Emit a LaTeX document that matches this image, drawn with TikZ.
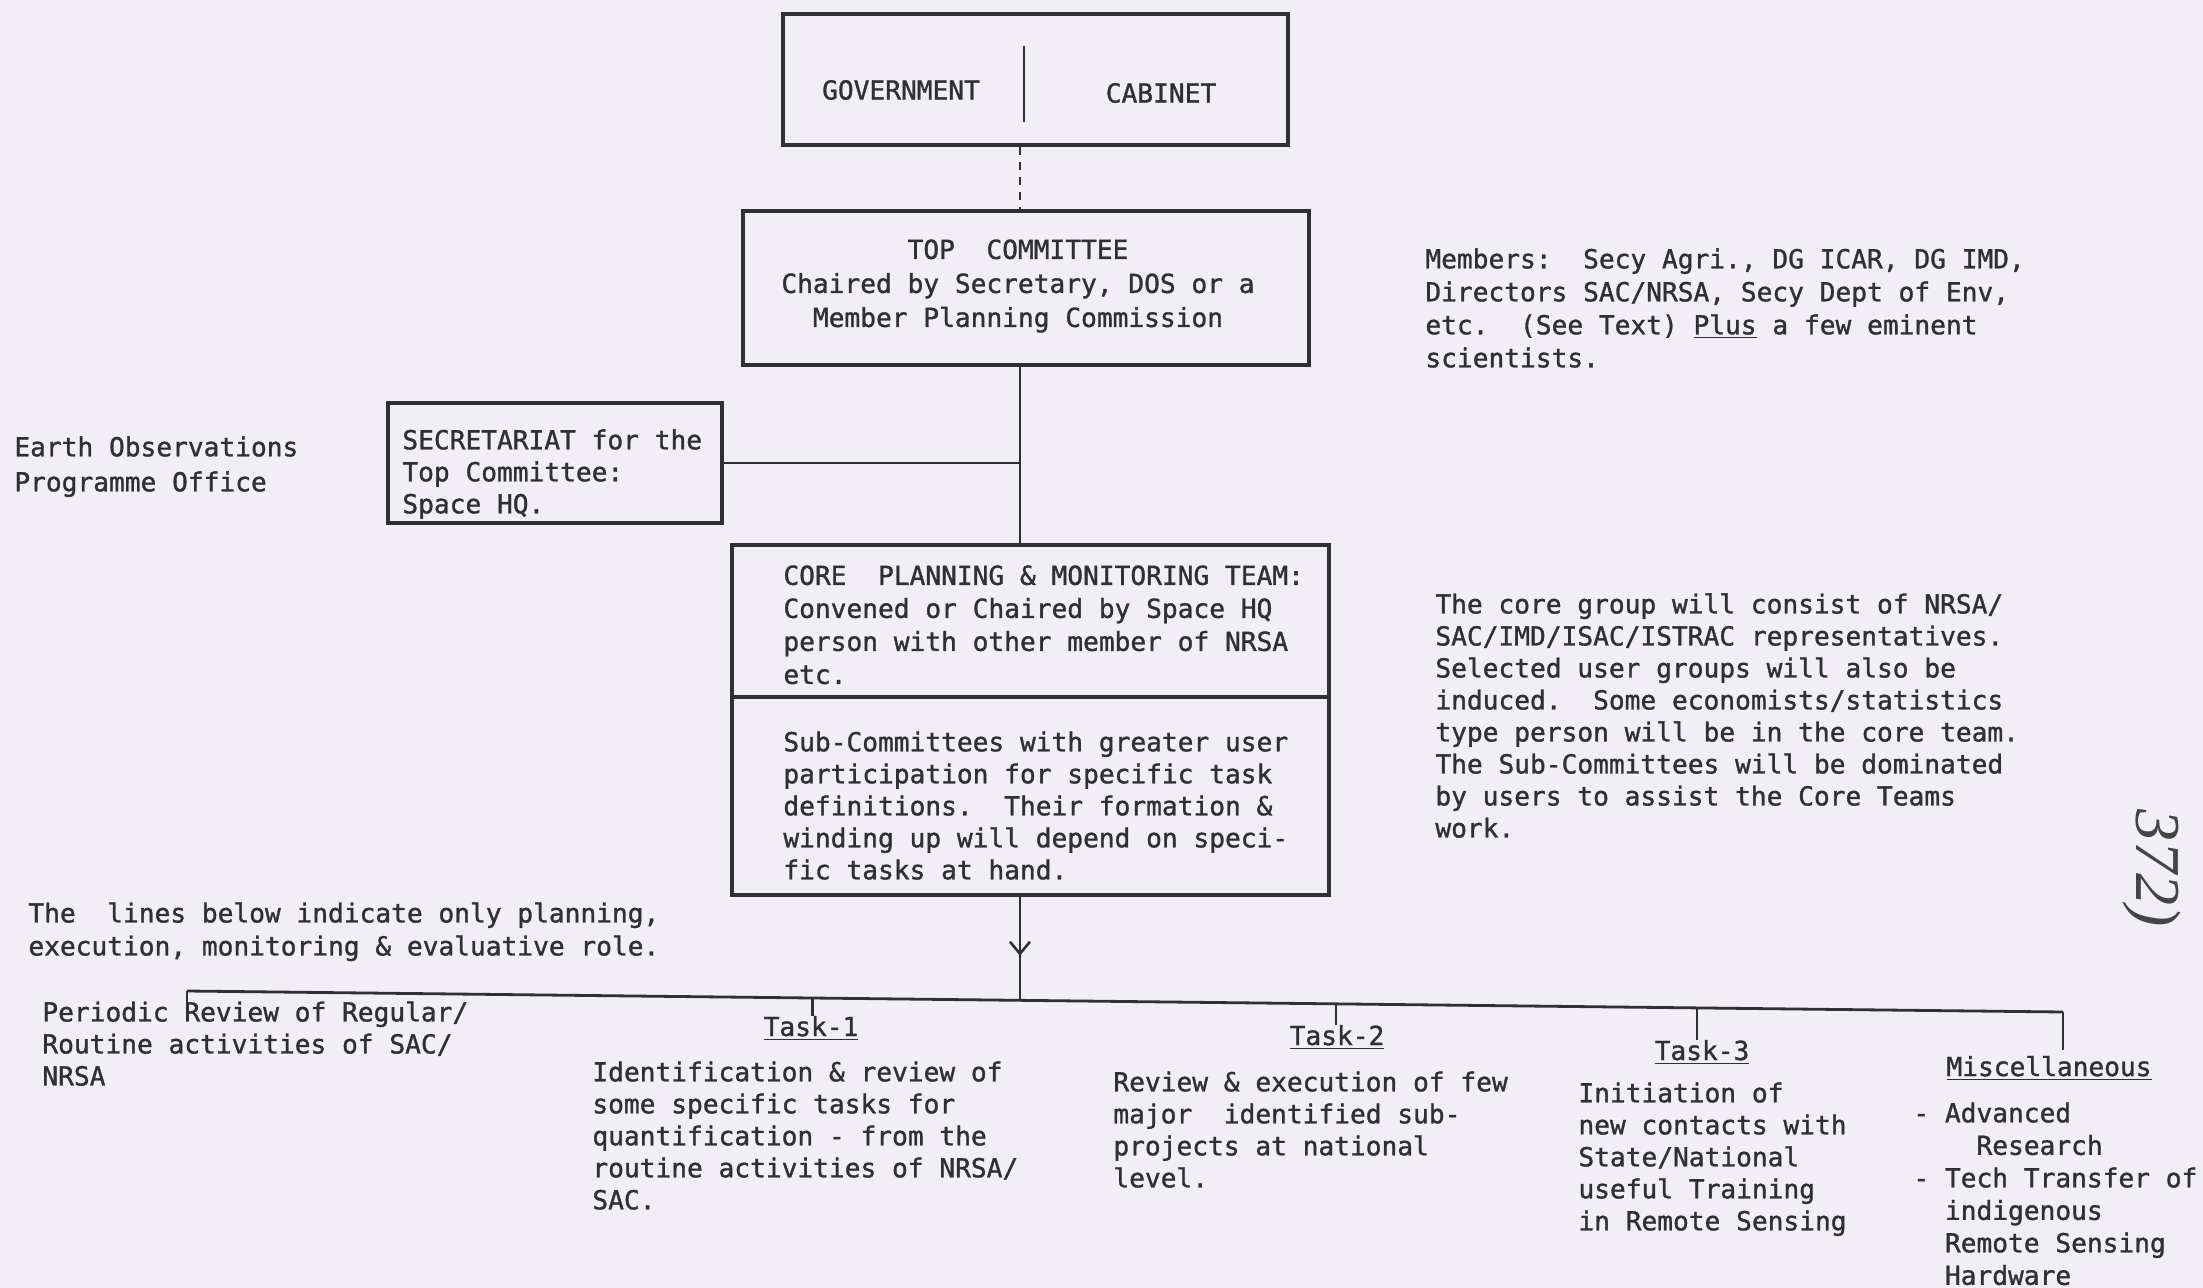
\documentclass[tikz,border=0pt]{standalone}
\usepackage{fontspec}
\setmainfont{DejaVu Sans Mono}[FakeBold=1.2]
\newfontfamily\handfont{Liberation Serif}
\usetikzlibrary{calc,fit,arrows.meta,decorations.markings}
\definecolor{paper}{HTML}{F1EEF5}
\definecolor{ink}{HTML}{303030}
\definecolor{pencil}{HTML}{444444}
\tikzset{
  boxframe/.style={draw=ink, line width=1.7pt, inner sep=0pt},
  txt/.style={anchor=north west, inner sep=0pt, align=left, text=ink,
    font=\frenchspacing\fontsize{13.1}{16}\selectfont},
  ctxt/.style={inner sep=0pt, align=center, text=ink,
    font=\frenchspacing\fontsize{13.1}{16}\selectfont},
  ttl/.style={inner sep=0pt, anchor=base, text=ink,
    font=\frenchspacing\fontsize{13.1}{16}\selectfont},
  conn/.style={draw=ink, line width=1.4pt},
  dashconn/.style={conn, dash pattern=on 4pt off 3.5pt},
  vmark/.style={decoration={markings, mark=at position 0.57 with
    {\arrow{Straight Barb[length=6pt,width=10pt,line width=1.3pt]}}},
    postaction={decorate}},
}
\begin{document}
\begin{tikzpicture}[x=0.5pt,y=-0.5pt]
\useasboundingbox (0,0) rectangle (2203,1288);
\fill[paper] (0,0) rectangle (2203,1288);

% ---- boxes
\node[boxframe, fit={(783,14) (1288,145)}] (gov) {};
\node[boxframe, fit={(743,211) (1309,365)}] (top) {};
\node[boxframe, fit={(388,403) (722,523)}] (sec) {};
\node[boxframe, fit={(732,545) (1329,895)}] (core) {};
\draw[conn] (1024,46) -- (1024,122);
\draw[draw=ink, line width=1.7pt] (core.west |- 0,697) -- (core.east |- 0,697);

% ---- box texts
\node[ctxt] (govt) at (901,90) {GOVERNMENT};
\node[ctxt] (cabt) at (1161,93) {CABINET};
\node[ctxt, font=\frenchspacing\fontsize{13.1}{17}\selectfont] (topt) at (1018,286)
  {TOP~~COMMITTEE\\Chaired by Secretary, DOS or a\\Member Planning Commission};
\node[txt] (sect) at (402,429) {SECRETARIAT for the\\Top Committee:\\Space HQ.};
\node[txt, font=\frenchspacing\fontsize{13.1}{16.5}\selectfont] (coret) at (783,565)
  {CORE~~PLANNING \& MONITORING TEAM:\\Convened or Chaired by Space HQ\\person with other member of NRSA\\etc.};
\node[txt] (subt) at (783,731)
  {Sub-Committees with greater user\\participation for specific task\\definitions.~~Their formation \&\\winding up will depend on speci-\\fic tasks at hand.};

% ---- side texts
\node[txt, font=\frenchspacing\fontsize{13.1}{17.5}\selectfont] (eop) at (14,436)
  {Earth Observations\\Programme Office};
\node[txt, font=\frenchspacing\fontsize{13.1}{16.5}\selectfont] (members) at (1425,248)
  {Members:~~Secy Agri., DG ICAR, DG IMD,\\Directors SAC/NRSA, Secy Dept of Env,\\etc.~~(See Text) \underline{Plus} a few eminent\\scientists.};
\node[txt] (corenote) at (1435,593)
  {The core group will consist of NRSA/\\SAC/IMD/ISAC/ISTRAC representatives.\\Selected user groups will also be\\induced.~~Some economists/statistics\\type person will be in the core team.\\The Sub-Committees will be dominated\\by users to assist the Core Teams\\work.};
\node[txt, font=\frenchspacing\fontsize{13.1}{16.5}\selectfont] (linesnote) at (28,902)
  {The~~lines below indicate only planning,\\execution, monitoring \& evaluative role.};

% ---- bottom branches
\node[txt] (per) at (42,1001)
  {Periodic Review of Regular/\\Routine activities of SAC/\\NRSA};
\node[ttl] (t1) at (811,1036) {\underline{Task-1}};
\node[txt] (t1t) at (592,1061)
  {Identification \& review of\\some specific tasks for\\quantification - from the\\routine activities of NRSA/\\SAC.};
\node[ttl] (t2) at (1337,1045) {\underline{Task-2}};
\node[txt] (t2t) at (1113,1071)
  {Review \& execution of few\\major~~identified sub-\\projects at national\\level.};
\node[ttl] (t3) at (1702,1060) {\underline{Task-3}};
\node[txt] (t3t) at (1578,1082)
  {Initiation of\\new contacts with\\State/National\\useful Training\\in Remote Sensing};
\node[ttl] (mt) at (2049,1076) {\underline{Miscellaneous}};
\node[txt, font=\frenchspacing\fontsize{13.1}{16.25}\selectfont] (mtt) at (1913,1102)
  {- Advanced\\~~~~Research\\- Tech Transfer of\\~~indigenous\\~~Remote Sensing\\~~Hardware};

% ---- connectors
\coordinate (spine) at (1020,0);
\draw[dashconn] (gov.south -| spine) -- (top.north -| spine);
\draw[conn] (top.south -| spine) -- (core.north -| spine);
\draw[conn] (sec.east) -- (sec.east -| spine);

\coordinate (busL) at (187,991);
\coordinate (busR) at (2063,1012);
\coordinate (cb) at ($(busL)!0.444!(busR)$);
\coordinate (d1) at ($(busL)!0.3332!(busR)$);
\coordinate (d2) at ($(busL)!0.6125!(busR)$);
\coordinate (d3) at ($(busL)!0.8049!(busR)$);
\draw[conn, vmark] (core.south -| cb) -- (cb);
\draw[conn] (busL) -- (busR);
\draw[conn] (busL) -- ($(busL |- per.north)+(0,6)$);
\draw[conn] (d1) -- (d1 |- t1.north);
\draw[conn] (d2) -- (d2 |- t2.north);
\draw[conn] (d3) -- (d3 |- t3.north);
\draw[conn] (busR) -- ($(busR |- mt.north)+(0,-6)$);

% ---- handwritten page mark
\node[rotate=-90, text=pencil, inner sep=0pt, font=\handfont\itshape\fontsize{32}{32}\selectfont] (pageno) at (2152,868) {372)};
\end{tikzpicture}
\end{document}
